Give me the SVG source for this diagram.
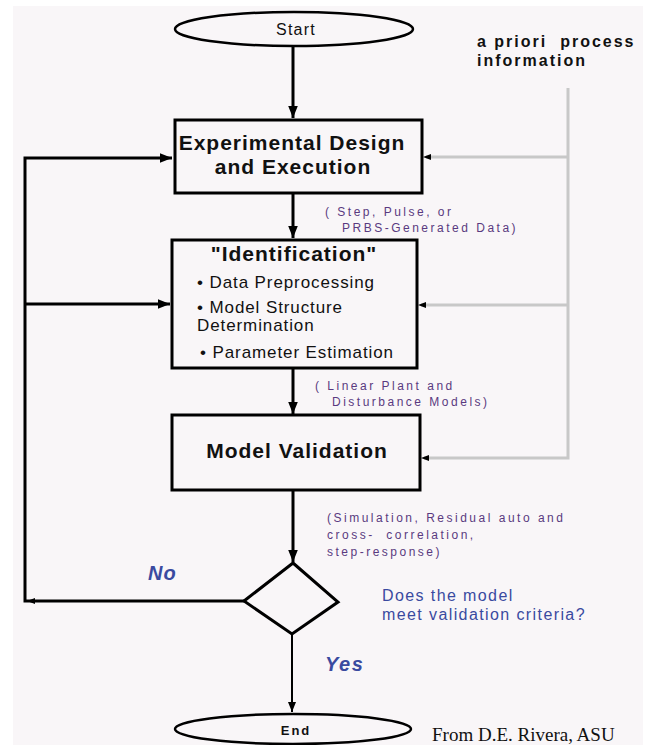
<svg xmlns="http://www.w3.org/2000/svg" width="663" height="745" viewBox="0 0 663 745">
<defs>
<marker id="ah" viewBox="0 0 10 10" refX="10" refY="5" markerWidth="5" markerHeight="4" markerUnits="strokeWidth" orient="auto">
<path d="M0,1 L10,5 L0,9 Z" fill="#000"/>
</marker>
<marker id="ahs" viewBox="0 0 10 10" refX="10" refY="5" markerWidth="7" markerHeight="5" markerUnits="strokeWidth" orient="auto">
<path d="M0,1 L10,5 L0,9 Z" fill="#000"/>
</marker>
</defs>
<style>
.box{fill:none;stroke:#000;stroke-width:3}
.ell{fill:none;stroke:#000;stroke-width:2.5}
.line{fill:none;stroke:#000;stroke-width:3}
.gray{fill:none;stroke:#c8c8c8;stroke-width:3}
.t{font-family:"Liberation Sans",Arial,sans-serif;fill:#111}
.b{font-weight:bold}
.hd{font-size:21px;font-weight:bold;letter-spacing:1px}
.it{font-size:17px;letter-spacing:0.9px}
.note{font-family:"Liberation Sans",Arial,sans-serif;font-size:12px;fill:#5a3a80;letter-spacing:2.5px}
.blue{font-family:"Liberation Sans",Arial,sans-serif;fill:#3a4aa0}
</style>
<rect x="0" y="0" width="663" height="745" fill="#ffffff"/>
<rect x="13" y="6" width="630" height="739" fill="#f9f6f8"/>

<g id="connectors">
<line class="line" x1="293" y1="46" x2="293" y2="118" marker-end="url(#ah)"/>
<line class="line" x1="293" y1="193" x2="293" y2="238" marker-end="url(#ah)"/>
<line class="line" x1="293" y1="368" x2="293" y2="414" marker-end="url(#ah)"/>
<line class="line" x1="293" y1="490" x2="293" y2="562" marker-end="url(#ah)"/>
<line x1="292" y1="634" x2="292" y2="712" stroke="#000" stroke-width="2" marker-end="url(#ahs)"/>
<polyline class="line" points="244,601 25,601 25,158 172,158" marker-end="url(#ah)"/>
<line class="line" x1="25" y1="304" x2="170" y2="304" marker-end="url(#ah)"/>
<path d="M27,601 l8,-3 v6 z" fill="#000"/>
<polyline class="gray" points="568,88 568,458 424,458"/>
<line class="gray" x1="568" y1="157" x2="426" y2="157"/>
<line class="gray" x1="568" y1="305" x2="421" y2="305"/>
<path d="M423,157 l8,-3 v6 z M418,305 l8,-3 v6 z M421,458 l8,-3 v6 z" fill="#000"/>
</g>

<g id="start">
<ellipse class="ell" cx="294" cy="29" rx="119" ry="17"/>
<text class="t" x="296" y="35" font-size="16" letter-spacing="1.2" text-anchor="middle">Start</text>
</g>

<g id="prior">
<text class="t b" x="477" y="47" font-size="16" letter-spacing="2" fill="#000" xml:space="preserve">a priori  process</text>
<text class="t b" x="477" y="66" font-size="16" letter-spacing="2" fill="#000">information</text>
</g>

<g id="exp">
<rect class="box" x="175" y="120" width="247" height="73"/>
<text class="t hd" x="292" y="150" text-anchor="middle">Experimental Design</text>
<text class="t hd" x="293" y="174" text-anchor="middle">and Execution</text>
</g>

<g id="note1">
<text class="note" x="325" y="216">( Step, Pulse, or</text>
<text class="note" x="342" y="232">PRBS-Generated Data)</text>
</g>

<g id="ident">
<rect class="box" x="172" y="240" width="245" height="128"/>
<text class="t hd" x="294" y="261" text-anchor="middle">"Identification"</text>
<text class="t it" x="197" y="288">• Data Preprocessing</text>
<text class="t it" x="197" y="313">• Model Structure</text>
<text class="t it" x="197" y="331">Determination</text>
<text class="t it" x="200" y="358">• Parameter Estimation</text>
</g>

<g id="note2">
<text class="note" x="315" y="390">( Linear Plant and</text>
<text class="note" x="332" y="406">Disturbance Models)</text>
</g>

<g id="validation">
<rect class="box" x="172" y="415" width="248" height="75"/>
<text class="t hd" x="297" y="458" text-anchor="middle">Model Validation</text>
</g>

<g id="note3">
<text class="note" x="327" y="522">(Simulation, Residual auto and</text>
<text class="note" x="327" y="539" xml:space="preserve">cross-  correlation,</text>
<text class="note" x="327" y="556">step-response)</text>
</g>

<g id="decision">
<polygon points="293,563 338,602 292,634 244,601" fill="none" stroke="#000" stroke-width="3"/>
</g>

<g id="question">
<text class="blue" x="382" y="601" font-size="16" letter-spacing="1.4">Does the model</text>
<text class="blue" x="382" y="620" font-size="16" letter-spacing="1.4">meet validation criteria?</text>
</g>

<g id="no">
<text class="blue b" x="148" y="580" font-size="20" font-style="italic" letter-spacing="1">No</text>
</g>
<g id="yes">
<text class="blue b" x="325" y="671" font-size="20" font-style="italic" letter-spacing="1.5">Yes</text>
</g>

<g id="end">
<ellipse class="ell" cx="293" cy="729" rx="118" ry="15"/>
<text class="t b" x="296" y="735" font-size="13" letter-spacing="2" text-anchor="middle">End</text>
</g>

<g id="credit">
<text x="432" y="741" font-family="'Liberation Serif','Times New Roman',serif" font-size="19" fill="#111">From D.E. Rivera, ASU</text>
</g>
</svg>
